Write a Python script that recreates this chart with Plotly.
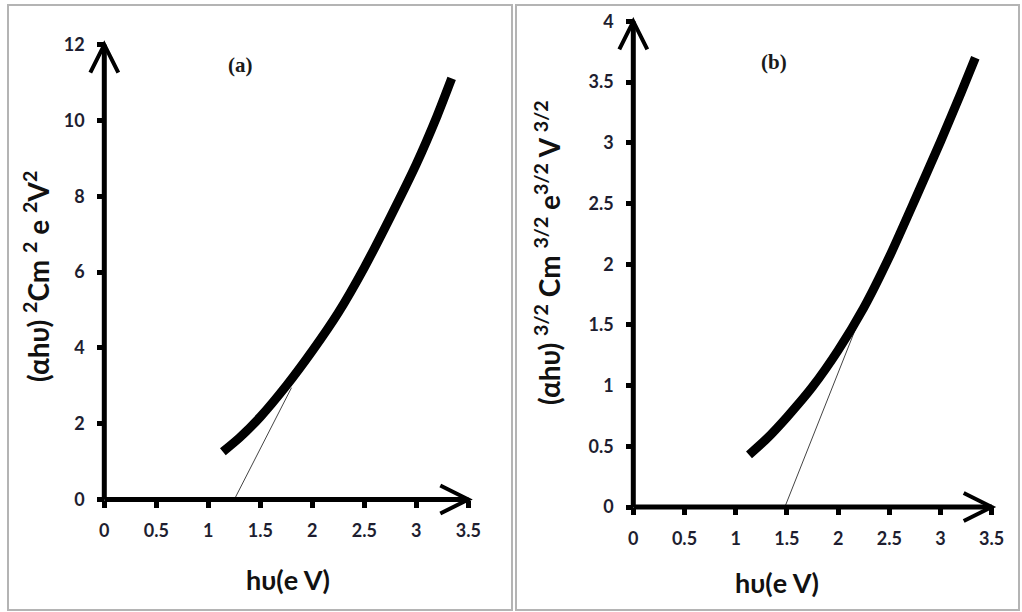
import plotly.graph_objects as go

W, H = 1022, 612

# ---------------- data ----------------
a_x = [1.14, 1.30, 1.50, 1.75, 2.00, 2.25, 2.50, 2.75, 3.00, 3.20, 3.34]
a_y = [1.26, 1.63, 2.18, 3.00, 3.92, 4.93, 6.12, 7.45, 8.85, 10.12, 11.11]
a_tan_x = [1.25, 1.80]
a_tan_y = [0.0, 2.95]

b_x = [1.13, 1.30, 1.50, 1.75, 2.00, 2.25, 2.50, 2.75, 3.00, 3.20, 3.34]
b_y = [0.43, 0.56, 0.74, 0.99, 1.29, 1.64, 2.06, 2.53, 3.01, 3.41, 3.70]
b_tan_x = [1.48, 2.28]
b_tan_y = [0.0, 1.70]

x_ticks = [0, 0.5, 1, 1.5, 2, 2.5, 3, 3.5]
x_ticktext = ["0", "0.5", "1", "1.5", "2", "2.5", "3", "3.5"]
a_y_ticks = [0, 2, 4, 6, 8, 10, 12]
a_y_ticktext = ["0", "2", "4", "6", "8", "10", "12"]
b_y_ticks = [0, 0.5, 1, 1.5, 2, 2.5, 3, 3.5, 4]
b_y_ticktext = ["0", "0.5", "1", "1.5", "2", "2.5", "3", "3.5", "4"]

x_title = "hυ(e V)"
a_y_title = "(αhυ) <sup>2</sup>Cm <sup>2</sup> e <sup>2</sup>V<sup>2</sup>"
b_y_title = "(αhυ) <sup>3/2</sup> Cm <sup>3/2</sup> e<sup>3/2</sup> V <sup>3/2</sup>"
a_label = "(a)"
b_label = "(b)"

# ---------------- layout geometry (pixels) ----------------
A = dict(x0=104.3, xs=104.0, y0=499.5, ys=37.9, xr=(-0.3, 3.75), yr=(-0.7, 12.8))
B = dict(x0=633.3, xs=102.4, y0=507.0, ys=121.4, xr=(-0.3, 3.75), yr=(-0.22, 4.15))


def dom(p):
    xd = [(p["x0"] + p["xs"] * p["xr"][0]) / W, (p["x0"] + p["xs"] * p["xr"][1]) / W]
    yd = [1 - (p["y0"] - p["ys"] * p["yr"][0]) / H, 1 - (p["y0"] - p["ys"] * p["yr"][1]) / H]
    return xd, yd


axa_x, axa_y = dom(A)
axb_x, axb_y = dom(B)

TICKFONT = dict(family="Lato, 'Open Sans', sans-serif", size=18, color="#1e1e30", weight="bold")
TITLEFONT = dict(family="Lato, 'Open Sans', sans-serif", size=27, color="#111111", weight="bold")
YTITLEFONT = dict(family="Lato, 'Open Sans', sans-serif", size=28, color="#111111", weight="bold")

fig = go.Figure()

fig.add_trace(go.Scatter(x=a_tan_x, y=a_tan_y, mode="lines", line=dict(color="#444444", width=1),
                         xaxis="x", yaxis="y", showlegend=False, hoverinfo="skip"))
fig.add_trace(go.Scatter(x=a_x, y=a_y, mode="lines", line=dict(color="black", width=9, shape="spline", smoothing=0.6),
                         xaxis="x", yaxis="y", showlegend=False))
fig.add_trace(go.Scatter(x=b_tan_x, y=b_tan_y, mode="lines", line=dict(color="#444444", width=1),
                         xaxis="x2", yaxis="y2", showlegend=False, hoverinfo="skip"))
fig.add_trace(go.Scatter(x=b_x, y=b_y, mode="lines", line=dict(color="black", width=9, shape="spline", smoothing=0.6),
                         xaxis="x2", yaxis="y2", showlegend=False))

common_x = dict(showgrid=False, zeroline=False, showline=False, ticks="outside", ticklen=7, tickwidth=5,
                tickcolor="black", tickfont=TICKFONT, tickvals=x_ticks, ticktext=x_ticktext,
                anchor="free", side="bottom", ticklabelstandoff=8, fixedrange=True)
common_y = dict(showgrid=False, zeroline=False, showline=False, ticks="outside", ticklen=7, tickwidth=5,
                tickcolor="black", tickfont=TICKFONT, anchor="free", side="left", ticklabelstandoff=9,
                fixedrange=True)

fig.update_layout(
    width=W, height=H, margin=dict(l=0, r=0, t=0, b=0),
    paper_bgcolor="white", plot_bgcolor="rgba(0,0,0,0)", showlegend=False,
    xaxis=dict(common_x, domain=axa_x, range=list(A["xr"]), position=1 - A["y0"] / H),
    yaxis=dict(common_y, domain=axa_y, range=list(A["yr"]), position=A["x0"] / W,
               tickvals=a_y_ticks, ticktext=a_y_ticktext),
    xaxis2=dict(common_x, domain=axb_x, range=list(B["xr"]), position=1 - B["y0"] / H),
    yaxis2=dict(common_y, domain=axb_y, range=list(B["yr"]), position=B["x0"] / W,
                tickvals=b_y_ticks, ticktext=b_y_ticktext),
)

shapes = []
shapes.append(dict(type="rect", xref="paper", yref="paper", x0=8 / W, x1=512 / W, y0=1 - 610 / H, y1=1 - 5 / H,
                   line=dict(color="#b4b4b4", width=2), layer="below"))
shapes.append(dict(type="rect", xref="paper", yref="paper", x0=516 / W, x1=1019 / W, y0=1 - 610 / H, y1=1 - 5 / H,
                   line=dict(color="#b4b4b4", width=2), layer="below"))


def axes_shapes(xref, yref, p, xmax, ymax):
    out = []
    out.append(dict(type="line", xref=xref, yref=yref, x0=0, x1=xmax, y0=0, y1=0,
                    line=dict(color="black", width=5)))
    out.append(dict(type="line", xref=xref, yref=yref, x0=0, x1=0, y0=0, y1=ymax,
                    line=dict(color="black", width=5)))
    dxl = 28 / p["xs"]
    dyw = 14 / p["ys"]
    out.append(dict(type="path", xref=xref, yref=yref,
                    path=f"M {xmax - dxl},{dyw} L {xmax},0 L {xmax - dxl},{-dyw}",
                    line=dict(color="black", width=4)))
    dyl = 28 / p["ys"]
    dxw = 14 / p["xs"]
    out.append(dict(type="path", xref=xref, yref=yref,
                    path=f"M {-dxw},{ymax - dyl} L 0,{ymax} L {dxw},{ymax - dyl}",
                    line=dict(color="black", width=4)))
    return out


shapes += axes_shapes("x", "y", A, x_ticks[-1], a_y_ticks[-1])
shapes += axes_shapes("x2", "y2", B, x_ticks[-1], b_y_ticks[-1])
fig.update_layout(shapes=shapes)

LABELFONT = dict(family="'Liberation Serif', 'DejaVu Serif', serif", size=21, color="#1a1a1a", weight="bold")
C = dict(xref="paper", yref="paper", showarrow=False, xanchor="center", yanchor="middle")
ann = []
ann.append(dict(C, text=a_label, x=240 / W, y=1 - 65 / H, font=LABELFONT))
ann.append(dict(C, text=b_label, x=774 / W, y=1 - 62 / H, font=LABELFONT))
ann.append(dict(C, text=x_title, x=288 / W, y=1 - 579 / H, font=TITLEFONT))
ann.append(dict(C, text=x_title, x=777 / W, y=1 - 582 / H, font=TITLEFONT))
ann.append(dict(C, text=a_y_title, x=37 / W, y=1 - 277 / H, textangle=-90, font=YTITLEFONT))
ann.append(dict(C, text=b_y_title, x=548 / W, y=1 - 253 / H, textangle=-90, font=YTITLEFONT))
fig.update_layout(annotations=ann)

fig.write_html("out.html", config={"displayModeBar": False},
               post_script="document.body.style.margin='0';document.body.style.overflow='hidden';")
